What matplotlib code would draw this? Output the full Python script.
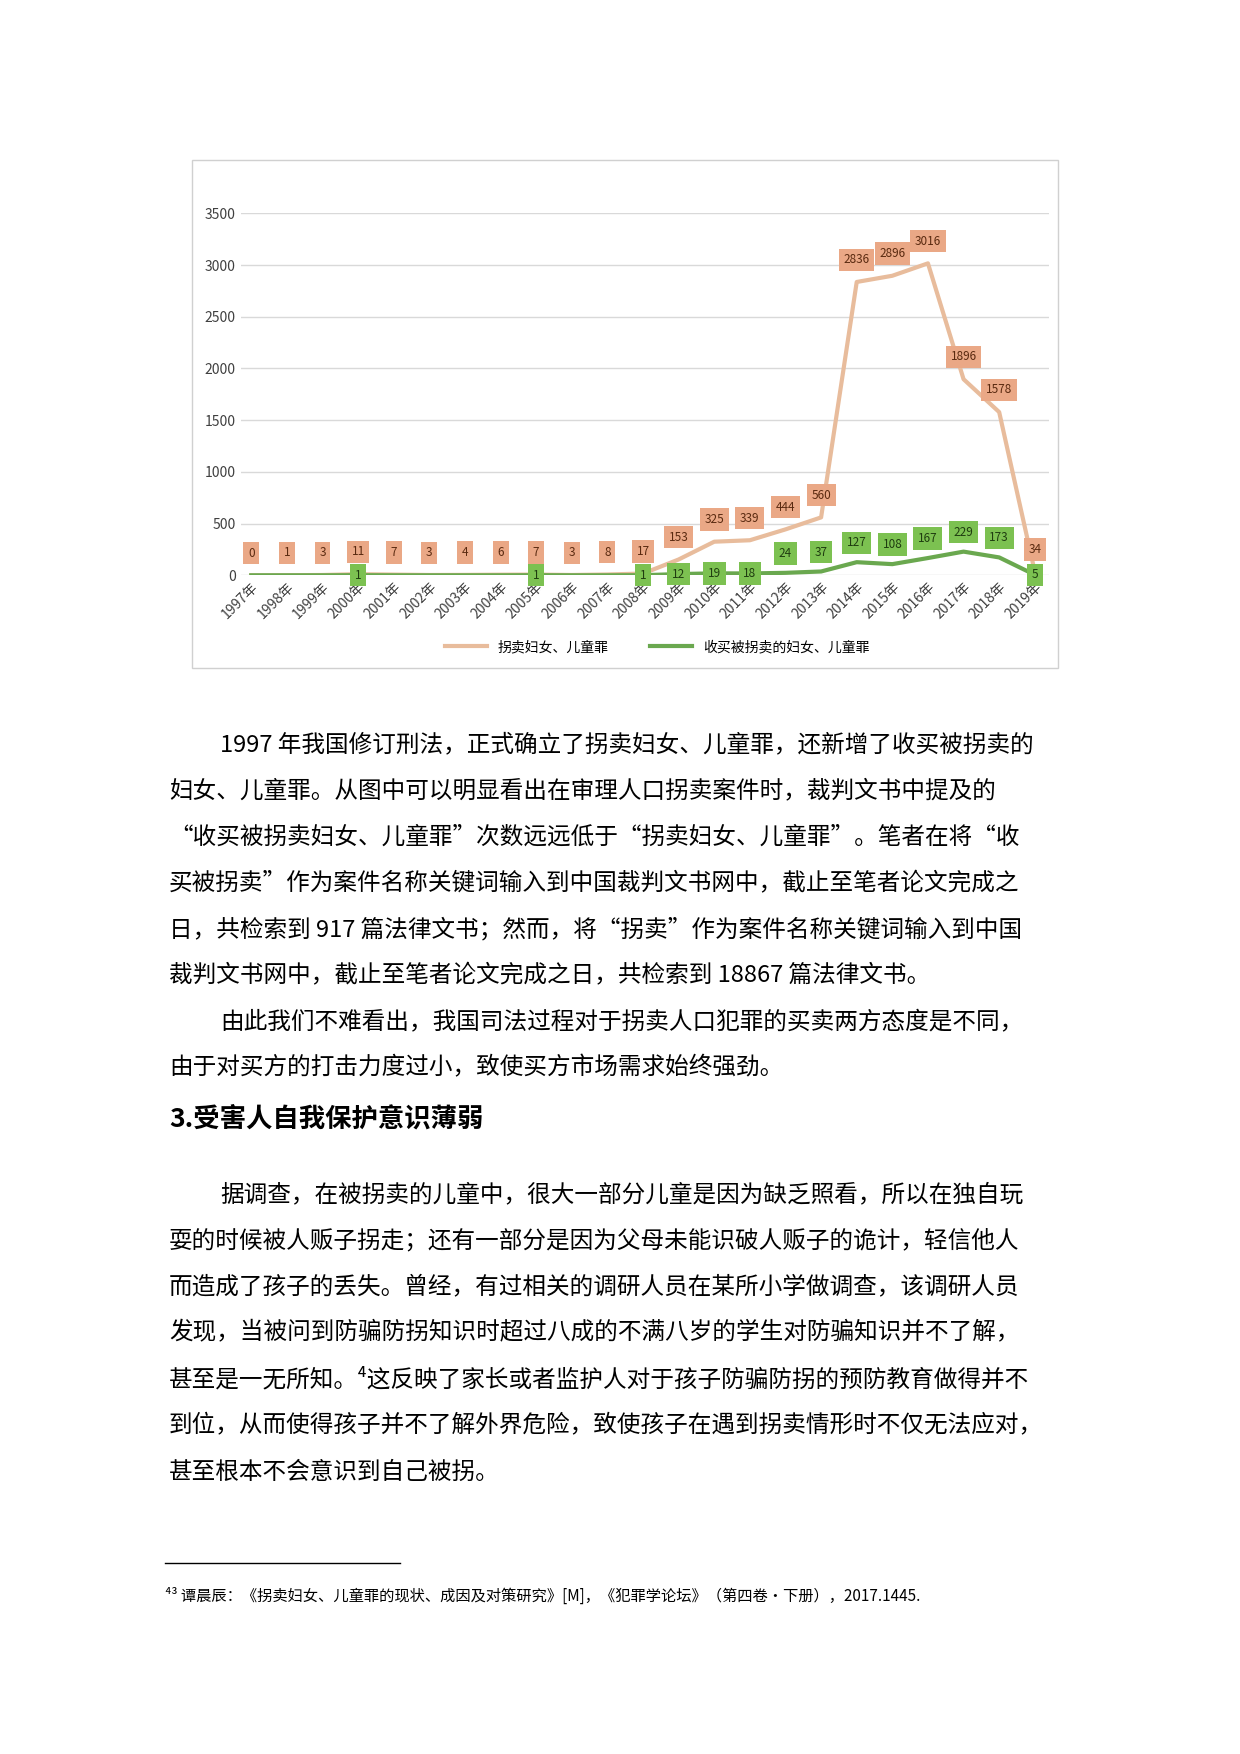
import matplotlib.pyplot as plt
from matplotlib.patches import Rectangle

plt.rcParams['font.family'] = ['Noto Sans CJK SC', 'DejaVu Sans']

years = [f'{y}年' for y in range(1997, 2020)]
traffic = [0, 1, 3, 11, 7, 3, 4, 6, 7, 3, 8, 17, 153, 325, 339, 444, 560,
           2836, 2896, 3016, 1896, 1578, 34]
buying = [0, 0, 0, 1, 0, 0, 0, 0, 1, 0, 0, 1, 12, 19, 18, 24, 37,
          127, 108, 167, 229, 173, 5]
series_names = ['拐卖妇女、儿童罪', '收买被拐卖的妇女、儿童罪']

orange_line, orange_box = '#e8bc9c', '#eaa886'
green_line, green_box = '#6aa84f', '#7cc151'

fig = plt.figure(figsize=(12.4, 17.54), dpi=100)
fig.patches.append(Rectangle((0.155, 0.619), 0.698, 0.2896, transform=fig.transFigure,
                             fill=False, edgecolor='#d0d0d0', lw=1))

ax = fig.add_axes([0.194, 0.672, 0.652, 0.2064])
x = list(range(len(years)))
ax.plot(x, traffic, color=orange_line, lw=3, label=series_names[0])
ax.plot(x, buying, color=green_line, lw=3, label=series_names[1])
ax.set_xlim(-0.3, 22.4)
ax.set_ylim(0, 3500)
ax.set_yticks(range(0, 3501, 500))
ax.grid(axis='y', color='#d9d9d9', lw=1)
ax.set_axisbelow(True)
for s in ax.spines.values():
    s.set_visible(False)
ax.tick_params(length=0, labelsize=10, colors='#404040')
ax.set_xticks(x)
ax.set_xticklabels(years, rotation=45, ha='right', rotation_mode='anchor')

for xi, v in zip(x, traffic):
    ax.annotate(str(v), (xi, v), xytext=(0, 16), textcoords='offset points',
                ha='center', va='center', fontsize=8.5, color='#5a2a10',
                bbox=dict(boxstyle='square,pad=0.4', fc=orange_box, ec='none'),
                annotation_clip=False)
for xi, v in zip(x, buying):
    if v == 0:
        continue
    off = 0 if v <= 19 else 14
    ax.annotate(str(v), (xi, v), xytext=(0, off), textcoords='offset points',
                ha='center', va='center', fontsize=8.5, color='#1f3d10',
                bbox=dict(boxstyle='square,pad=0.4', fc=green_box, ec='none'),
                annotation_clip=False)

fig.legend(loc='center', bbox_to_anchor=(0.53, 0.631), ncol=2, frameon=False,
           fontsize=10, handlelength=3, columnspacing=3)

# body text
fs = 17
lines = [
    (220, 745, '1997 年我国修订刑法，正式确立了拐卖妇女、儿童罪，还新增了收买被拐卖的'),
    (169, 791, '妇女、儿童罪。从图中可以明显看出在审理人口拐卖案件时，裁判文书中提及的'),
    (169, 837, '“收买被拐卖妇女、儿童罪”次数远远低于“拐卖妇女、儿童罪”。笔者在将“收'),
    (169, 884, '买被拐卖”作为案件名称关键词输入到中国裁判文书网中，截止至笔者论文完成之'),
    (169, 930, '日，共检索到 917 篇法律文书；然而，将“拐卖”作为案件名称关键词输入到中国'),
    (169, 976, '裁判文书网中，截止至笔者论文完成之日，共检索到 18867 篇法律文书。'),
    (220, 1023, '由此我们不难看出，我国司法过程对于拐卖人口犯罪的买卖两方态度是不同，'),
    (169, 1068, '由于对买方的打击力度过小，致使买方市场需求始终强劲。'),
    (220, 1195, '据调查，在被拐卖的儿童中，很大一部分儿童是因为缺乏照看，所以在独自玩'),
    (169, 1241, '耍的时候被人贩子拐走；还有一部分是因为父母未能识破人贩子的诡计，轻信他人'),
    (169, 1287, '而造成了孩子的丢失。曾经，有过相关的调研人员在某所小学做调查，该调研人员'),
    (169, 1333, '发现，当被问到防骗防拐知识时超过八成的不满八岁的学生对防骗知识并不了解，'),
    (169, 1380, '甚至是一无所知。⁴这反映了家长或者监护人对于孩子防骗防拐的预防教育做得并不'),
    (169, 1426, '到位，从而使得孩子并不了解外界危险，致使孩子在遇到拐卖情形时不仅无法应对，'),
    (169, 1472, '甚至根本不会意识到自己被拐。'),
]
for px, py, t in lines:
    fig.text(px / 1240, 1 - py / 1754, t, fontsize=fs, va='center', ha='left')
fig.text(169 / 1240, 1 - 1119 / 1754, '3.受害人自我保护意识薄弱', fontsize=19,
         fontweight='bold', va='center')
fig.add_artist(plt.Line2D([165 / 1240, 400 / 1240], [1 - 1563 / 1754] * 2,
                          transform=fig.transFigure, color='black', lw=1))
fig.text(165 / 1240, 1 - 1596 / 1754,
         '⁴³ 谭晨辰：《拐卖妇女、儿童罪的现状、成因及对策研究》[M]，《犯罪学论坛》（第四卷·下册），2017.1445.',
         fontsize=11, va='center', family=['Noto Sans CJK SC', 'DejaVu Sans'])

fig.savefig('out.png', dpi=100, facecolor='white')
